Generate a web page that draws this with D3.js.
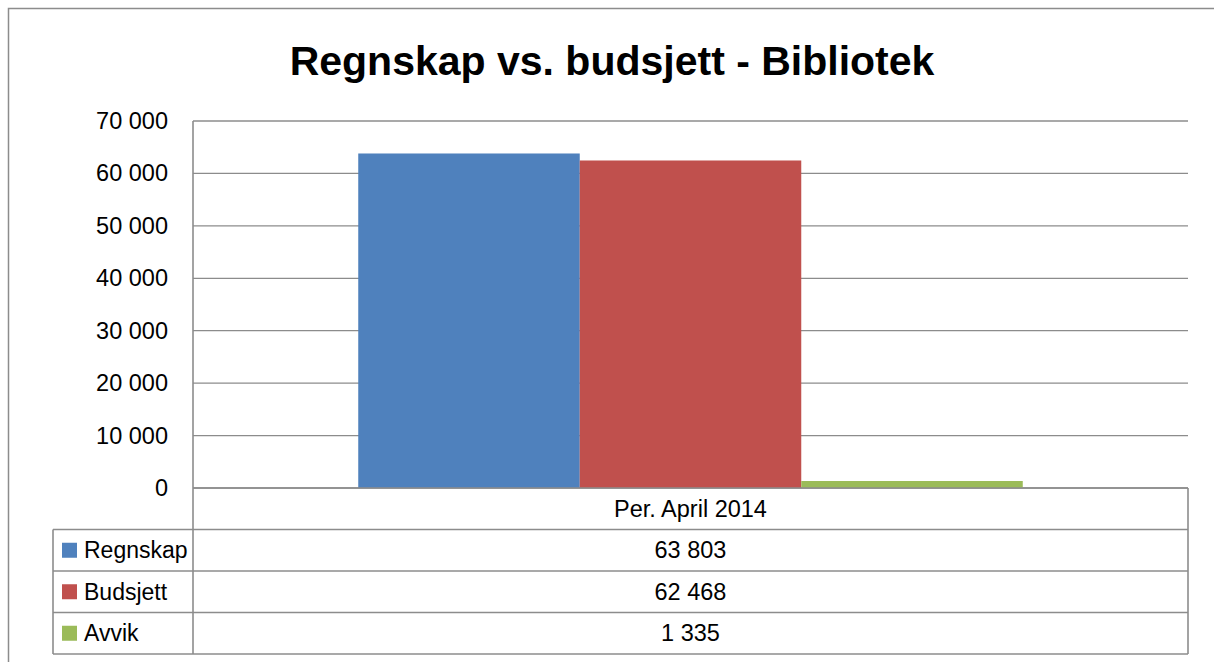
<!DOCTYPE html>
<html>
<head>
<meta charset="utf-8">
<script src="https://cdn.jsdelivr.net/npm/d3@7"></script>
<style>
  html, body { margin: 0; padding: 0; background: #fff; }
  svg { display: block; }
</style>
</head>
<body>
<script>
const title = "Regnskap vs. budsjett - Bibliotek";
const categories = ["Per. April 2014"];
const seriesNames = ["Regnskap", "Budsjett", "Avvik"];
const seriesColors = ["#4f81bd", "#c0504d", "#9bbb59"];
const regnskap = [63803];
const budsjett = [62468];
const avvik = [1335];
const yTicks = [0, 10000, 20000, 30000, 40000, 50000, 60000, 70000];

const seriesValues = [regnskap, budsjett, avvik];

const W = 1214, H = 662;
const font = "'Liberation Sans', Arial, sans-serif";
const gridColor = "#8c8c8c";

const svg = d3.select("body").append("svg").attr("width", W).attr("height", H);

// outer chart border
svg.append("rect").attr("x", 8.5).attr("y", 8.5).attr("width", W + 10).attr("height", H + 10)
  .attr("fill", "#fff").attr("stroke", gridColor).attr("stroke-width", 1.5);

// title
svg.append("text").attr("x", 612).attr("y", 75).attr("text-anchor", "middle")
  .attr("font-family", font).attr("font-weight", "bold").attr("font-size", 41)
  .attr("fill", "#000").text(title);

const plotL = 193, plotR = 1188, plotT = 121, plotB = 488;
const rowH = 41.5;
const legendL = 53;

const y = d3.scaleLinear().domain([0, 70000]).range([plotB, plotT]);
const x0 = d3.scaleBand().domain(categories).range([plotL, plotR]).paddingInner(0).paddingOuter(0);
const x1 = d3.scaleBand().domain(seriesNames).range([0, x0.bandwidth()]).paddingInner(0).paddingOuter(0.746);

const loc = d3.formatLocale({ decimal: ",", thousands: " ", grouping: [3], currency: ["", ""] });
const fmt = loc.format(",.0f");

// gridlines
svg.append("g").selectAll("line").data(yTicks).join("line")
  .attr("x1", plotL).attr("x2", plotR)
  .attr("y1", d => y(d)).attr("y2", d => y(d))
  .attr("stroke", gridColor).attr("stroke-width", 1.3);

// y axis labels
const yAxis = d3.axisLeft(y).tickValues(yTicks).tickFormat(fmt).tickSize(0).tickPadding(25);
const gy = svg.append("g").attr("transform", `translate(${plotL},0)`).call(yAxis);
gy.select(".domain").remove();
gy.selectAll("text").attr("font-family", font).attr("font-size", 23.5).attr("fill", "#000");

// bars
const gBars = svg.append("g");
categories.forEach((c, ci) => {
  seriesNames.forEach((s, si) => {
    const v = seriesValues[si][ci];
    gBars.append("rect")
      .attr("x", x0(c) + x1(s))
      .attr("width", x1.bandwidth())
      .attr("y", y(v))
      .attr("height", y(0) - y(v))
      .attr("fill", seriesColors[si]);
  });
});

// data table
const tableBottom = plotB + rowH * 4;
const gT = svg.append("g");
gT.append("line").attr("x1", plotL).attr("x2", plotR).attr("y1", plotB).attr("y2", plotB)
  .attr("stroke", gridColor).attr("stroke-width", 1.6);
for (let i = 1; i <= 4; i++) {
  gT.append("line").attr("x1", legendL).attr("x2", plotR)
    .attr("y1", plotB + rowH * i).attr("y2", plotB + rowH * i)
    .attr("stroke", gridColor).attr("stroke-width", 1.6);
}
gT.append("line").attr("x1", plotL).attr("x2", plotL).attr("y1", plotT).attr("y2", tableBottom)
  .attr("stroke", gridColor).attr("stroke-width", 1.6);
gT.append("line").attr("x1", plotR).attr("x2", plotR).attr("y1", plotB).attr("y2", tableBottom)
  .attr("stroke", gridColor).attr("stroke-width", 1.6);
gT.append("line").attr("x1", legendL).attr("x2", legendL).attr("y1", plotB + rowH).attr("y2", tableBottom)
  .attr("stroke", gridColor).attr("stroke-width", 1.6);

categories.forEach(c => {
  gT.append("text").attr("x", x0(c) + x0.bandwidth() / 2).attr("y", plotB + rowH / 2)
    .attr("dy", "0.35em").attr("text-anchor", "middle")
    .attr("font-family", font).attr("font-size", 23.5).attr("fill", "#000").text(c);
});

seriesNames.forEach((s, si) => {
  const cy = plotB + rowH * (si + 1) + rowH / 2;
  gT.append("rect").attr("x", 62).attr("y", cy - 7.5).attr("width", 15).attr("height", 15)
    .attr("fill", seriesColors[si]);
  gT.append("text").attr("x", 84).attr("y", cy).attr("dy", "0.35em")
    .attr("font-family", font).attr("font-size", 23).attr("fill", "#000").text(s);
  categories.forEach((c, ci) => {
    gT.append("text").attr("x", x0(c) + x0.bandwidth() / 2).attr("y", cy).attr("dy", "0.35em")
      .attr("text-anchor", "middle")
      .attr("font-family", font).attr("font-size", 23.5).attr("fill", "#000")
      .text(fmt(seriesValues[si][ci]));
  });
});
</script>
</body>
</html>
